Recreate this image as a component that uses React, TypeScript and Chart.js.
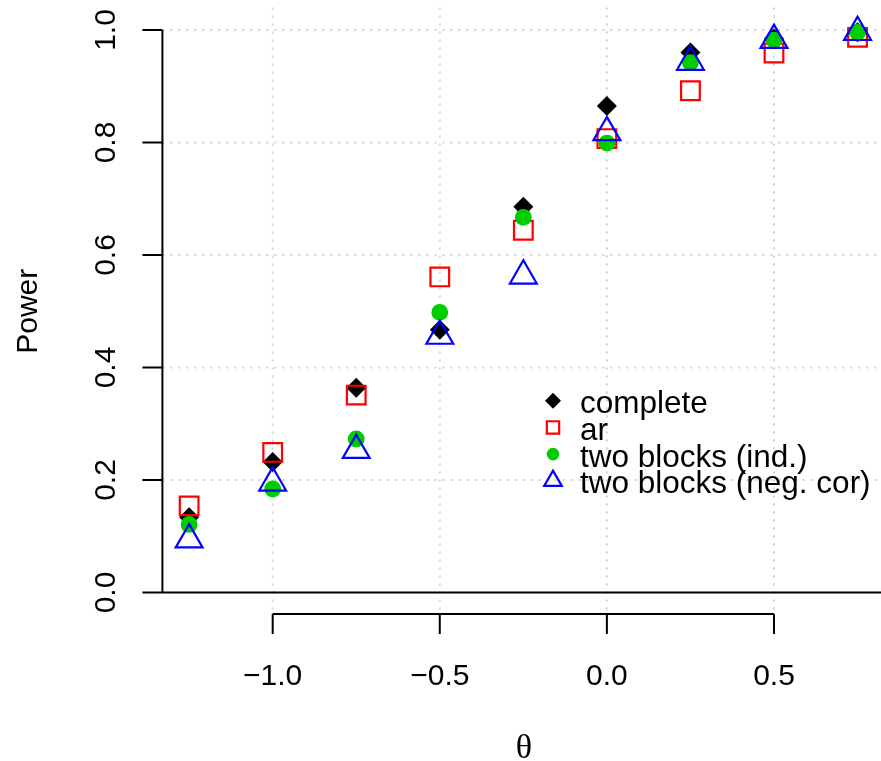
import React, { useEffect, useRef } from 'react';
import { Chart, registerables } from 'chart.js';
import { drawPoint } from 'chart.js/helpers';

Chart.register(...registerables);

// ---- data ----
const theta = [-1.25, -1.0, -0.75, -0.5, -0.25, 0, 0.25, 0.5, 0.75];
const complete = [0.134, 0.232, 0.364, 0.467, 0.686, 0.865, 0.96, 0.985, 0.996];
const ar = [0.154, 0.249, 0.351, 0.561, 0.644, 0.807, 0.892, 0.959, 0.987];
const twoBlocksInd = [0.121, 0.184, 0.273, 0.498, 0.667, 0.799, 0.942, 0.982, 0.996];
const twoBlocksNeg = [0.094, 0.195, 0.253, 0.456, 0.563, 0.818, 0.943, 0.982, 0.996];
const seriesNames = ['complete', 'ar', 'two blocks (ind.)', 'two blocks (neg. cor)'];
const xTicks = [-1.0, -0.5, 0.0, 0.5];
const xTickLabels = ['\u22121.0', '\u22120.5', '0.0', '0.5'];
const yTicks = [0, 0.2, 0.4, 0.6, 0.8, 1.0];
const yTickLabels = ['0.0', '0.2', '0.4', '0.6', '0.8', '1.0'];
const xTitle = '\u03B8';
const yTitle = 'Power';

const SANS = '"Liberation Sans", Arial, Helvetica, sans-serif';
const SERIF = '"Liberation Serif", "DejaVu Serif", "Times New Roman", serif';

const styles = [
  { pointStyle: 'rectRot', radius: 10, bg: '#000000', border: '#000000', bw: 0, legendR: 8 },
  { pointStyle: 'rect', radius: 13.2, bg: 'rgba(0,0,0,0)', border: '#FF0000', bw: 2.2, legendR: 8.7 },
  { pointStyle: 'circle', radius: 8.4, bg: '#00CD00', border: '#00CD00', bw: 0, legendR: 6.3 },
  { pointStyle: 'triangle', radius: 15.5, bg: 'rgba(0,0,0,0)', border: '#0000FF', bw: 2.2, legendR: 10.2 },
];

const seriesValues = [complete, ar, twoBlocksInd, twoBlocksNeg];

const rPlotPlugin = {
  id: 'rPlot',
  beforeDraw(chart: any) {
    const ctx = chart.ctx;
    ctx.save();
    ctx.fillStyle = '#ffffff';
    ctx.fillRect(0, 0, chart.width, chart.height);
    ctx.restore();
  },
  beforeDatasetsDraw(chart: any) {
    const ctx = chart.ctx;
    const xs = chart.scales.x;
    const ys = chart.scales.y;
    const area = chart.chartArea;
    ctx.save();
    // dotted grid
    ctx.strokeStyle = '#D3D3D3';
    ctx.lineWidth = 2;
    ctx.setLineDash([2, 6]);
    xTicks.forEach((v) => {
      const px = xs.getPixelForValue(v);
      ctx.beginPath();
      ctx.moveTo(px, area.top);
      ctx.lineTo(px, area.bottom);
      ctx.stroke();
    });
    yTicks.forEach((v) => {
      const py = ys.getPixelForValue(v);
      ctx.beginPath();
      ctx.moveTo(area.left, py);
      ctx.lineTo(area.right, py);
      ctx.stroke();
    });
    ctx.setLineDash([]);
    // horizontal reference line at 0
    ctx.strokeStyle = '#000000';
    ctx.lineWidth = 2;
    const y0 = ys.getPixelForValue(0);
    ctx.beginPath();
    ctx.moveTo(area.left, y0);
    ctx.lineTo(area.right, y0);
    ctx.stroke();

    // y axis
    const yTop = ys.getPixelForValue(yTicks[yTicks.length - 1]);
    const yBot = ys.getPixelForValue(yTicks[0]);
    const axX = area.left;
    ctx.beginPath();
    ctx.moveTo(axX, yTop);
    ctx.lineTo(axX, yBot);
    ctx.stroke();
    yTicks.forEach((v) => {
      const py = ys.getPixelForValue(v);
      ctx.beginPath();
      ctx.moveTo(axX - 20, py);
      ctx.lineTo(axX, py);
      ctx.stroke();
    });
    // x axis
    const axY = area.bottom - 1;
    const xL = xs.getPixelForValue(xTicks[0]);
    const xR = xs.getPixelForValue(xTicks[xTicks.length - 1]);
    ctx.beginPath();
    ctx.moveTo(xL, axY);
    ctx.lineTo(xR, axY);
    ctx.stroke();
    xTicks.forEach((v) => {
      const px = xs.getPixelForValue(v);
      ctx.beginPath();
      ctx.moveTo(px, axY);
      ctx.lineTo(px, axY + 20);
      ctx.stroke();
    });

    // tick labels
    ctx.fillStyle = '#000000';
    ctx.font = '30px ' + SANS;
    ctx.textAlign = 'center';
    ctx.textBaseline = 'alphabetic';
    xTicks.forEach((v, i) => {
      ctx.fillText(xTickLabels[i], xs.getPixelForValue(v), 685);
    });
    yTicks.forEach((v, i) => {
      ctx.save();
      ctx.translate(115, ys.getPixelForValue(v));
      ctx.rotate(-Math.PI / 2);
      ctx.fillText(yTickLabels[i], 0, 0);
      ctx.restore();
    });
    // titles
    ctx.save();
    ctx.translate(37, (area.top + area.bottom) / 2);
    ctx.rotate(-Math.PI / 2);
    ctx.fillText(yTitle, 0, 0);
    ctx.restore();
    ctx.font = '34px ' + SERIF;
    ctx.fillText(xTitle, 524, 758);
    ctx.restore();
  },
  afterDatasetsDraw(chart: any) {
    const ctx = chart.ctx;
    ctx.save();
    const mx = 553;
    const tx = 580;
    const y0 = 400.7;
    const step = 26.7;
    seriesNames.forEach((name, i) => {
      const s = styles[i];
      const cy = y0 + i * step;
      ctx.fillStyle = s.bg;
      ctx.strokeStyle = s.border;
      ctx.lineWidth = s.bw;
      drawPoint(ctx, { pointStyle: s.pointStyle, radius: s.legendR, rotation: 0, borderWidth: s.bw } as any, mx, cy);
      ctx.fillStyle = '#000000';
      ctx.font = '31.5px ' + SANS;
      ctx.textAlign = 'left';
      ctx.textBaseline = 'alphabetic';
      ctx.fillText(name, tx, cy + 12.6);
    });
    ctx.restore();
  },
};

export default function App() {
  const ref = useRef<HTMLCanvasElement | null>(null);
  useEffect(() => {
    if (!ref.current) return;
    const datasets = seriesNames.map((name, i) => ({
      label: name,
      data: theta.map((t, j) => ({ x: t, y: seriesValues[i][j] })),
      pointStyle: styles[i].pointStyle as any,
      pointRadius: styles[i].radius,
      pointHoverRadius: styles[i].radius,
      pointBackgroundColor: styles[i].bg,
      pointBorderColor: styles[i].border,
      pointBorderWidth: styles[i].bw,
      backgroundColor: styles[i].bg,
      borderColor: styles[i].border,
      showLine: false,
      clip: false as any,
      order: 4 - i,
    }));
    const chart = new Chart(ref.current, {
      type: 'scatter',
      data: { datasets },
      options: {
        animation: false,
        responsive: false,
        devicePixelRatio: 1,
        layout: { autoPadding: false, padding: { left: 162.4, right: 0, top: 7.5, bottom: 146 } },
        plugins: { legend: { display: false }, tooltip: { enabled: false }, title: { display: false } },
        events: [],
        scales: {
          x: { type: 'linear', min: -1.33, max: 0.8202, display: false },
          y: { type: 'linear', min: -0.04, max: 1.04, display: false },
        },
      },
      plugins: [rPlotPlugin],
    });
    return () => chart.destroy();
  }, []);
  return (
    <div style={{ position: 'absolute', left: 0, top: 0, width: 881, height: 761 }}>
      <canvas ref={ref} width={881} height={761} style={{ display: 'block', width: 881, height: 761 }} />
    </div>
  );
}
